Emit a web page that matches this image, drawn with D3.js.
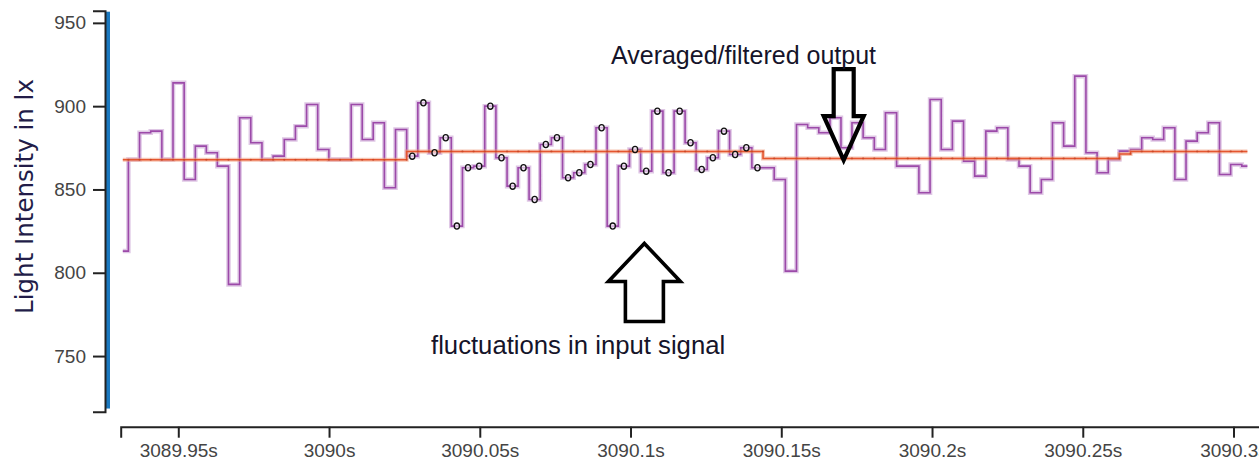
<!DOCTYPE html>
<html><head><meta charset="utf-8">
<script src="https://cdn.jsdelivr.net/npm/d3@7"></script>
<style>html,body{margin:0;padding:0;background:#fff;overflow:hidden}</style>
</head><body><svg id="chart" width="1259" height="461"></svg>
<script>
// ---------------- data ----------------
const sampleTimes = [
 3089.9316, 3089.9353, 3089.9390, 3089.9427, 3089.9464, 3089.9501, 3089.9538, 3089.9575, 3089.9611, 3089.9648,
 3089.9685, 3089.9722, 3089.9759, 3089.9796, 3089.9833, 3089.9870, 3089.9907, 3089.9944, 3089.9981, 3090.0018,
 3090.0055, 3090.0092, 3090.0128, 3090.0165, 3090.0202, 3090.0239, 3090.0276, 3090.0313, 3090.0350, 3090.0387,
 3090.0424, 3090.0461, 3090.0498, 3090.0535, 3090.0572, 3090.0609, 3090.0645, 3090.0682, 3090.0719, 3090.0756,
 3090.0793, 3090.0830, 3090.0867, 3090.0904, 3090.0941, 3090.0978, 3090.1015, 3090.1052, 3090.1089, 3090.1126,
 3090.1163, 3090.1199, 3090.1236, 3090.1273, 3090.1310, 3090.1347, 3090.1384, 3090.1421, 3090.1458, 3090.1495,
 3090.1532, 3090.1569, 3090.1606, 3090.1643, 3090.1680, 3090.1716, 3090.1753, 3090.1790, 3090.1827, 3090.1864,
 3090.1901, 3090.1938, 3090.1975, 3090.2012, 3090.2049, 3090.2086, 3090.2123, 3090.2160, 3090.2197, 3090.2233,
 3090.2270, 3090.2307, 3090.2344, 3090.2381, 3090.2418, 3090.2455, 3090.2492, 3090.2529, 3090.2566, 3090.2603,
 3090.2640, 3090.2677, 3090.2714, 3090.2750, 3090.2787, 3090.2824, 3090.2861, 3090.2898, 3090.2935, 3090.2972,
 3090.3009, 3090.3046
];
const inputSignal = [
 813, 868, 884, 885, 868, 914, 856, 876, 872, 864,
 793, 893, 878, 868, 870, 880, 888, 901, 874, 868,
 868, 901, 880, 890, 851, 886, 870, 902, 872, 881,
 828, 863, 864, 900, 869, 852, 863, 844, 877, 881,
 857, 860, 865, 887, 828, 864, 874, 861, 897, 860,
 897, 878, 862, 869, 885, 871, 875, 863, 863, 856,
 801, 889, 887, 884, 893, 875, 890, 881, 874, 896,
 864, 864, 848, 904, 874, 891, 867, 858, 885, 887,
 868, 864, 848, 856, 890, 876, 918, 872, 860, 868,
 873, 874, 881, 880, 887, 856, 879, 884, 890, 859,
 865, 864
];
const filteredOutput = [
 867.8, 867.8, 867.8, 867.8, 867.8, 867.8, 867.8, 867.8, 867.8, 867.8,
 867.8, 867.8, 867.8, 867.8, 867.8, 867.8, 867.8, 867.8, 867.8, 867.8,
 867.8, 867.8, 867.8, 867.8, 867.8, 867.8, 872.8, 872.8, 872.8, 872.8,
 872.8, 872.8, 872.8, 872.8, 872.8, 872.8, 872.8, 872.8, 872.8, 872.8,
 872.8, 872.8, 872.8, 872.8, 872.8, 872.8, 872.8, 872.8, 872.8, 872.8,
 872.8, 872.8, 872.8, 872.8, 872.8, 872.8, 872.8, 872.8, 868.6, 868.6,
 868.6, 868.6, 868.6, 868.6, 868.6, 868.6, 868.6, 868.6, 868.6, 868.6,
 868.6, 868.6, 868.6, 868.6, 868.6, 868.6, 868.6, 868.6, 868.6, 868.6,
 868.6, 868.6, 868.6, 868.6, 868.6, 868.6, 868.6, 868.6, 868.6, 868.6,
 871.3, 872.8, 872.8, 872.8, 872.8, 872.8, 872.8, 872.8, 872.8, 872.8,
 872.8, 872.8
];
// samples of the averaging window that are marked with circles (first, last index)
const markedWindow = [26, 57];
const yTickValues = [750, 800, 850, 900, 950];
const xTickValues = [3089.95, 3090, 3090.05, 3090.1, 3090.15, 3090.2, 3090.25, 3090.3];
const xTickLabels = ["3089.95s", "3090s", "3090.05s", "3090.1s", "3090.15s", "3090.2s", "3090.25s", "3090.3s"];
const yAxisTitle = "Light Intensity in lx";
const annotationTexts = ["Averaged/filtered output", "fluctuations in input signal"];

// ---------------- layout ----------------
const svg = d3.select("#chart");
const x = d3.scaleLinear().domain([3089.9309, 3090.312]).range([120.7, 1269.7]);
const y = d3.scaleLinear().domain([716.6, 957.3]).range([411.7, 10.7]);

svg.append("defs").append("clipPath").attr("id", "plotclip")
  .append("rect").attr("x", 120).attr("y", 0).attr("width", 1140).attr("height", 420);

// blue band beside y axis
svg.append("rect")
  .attr("x", 106).attr("width", 4)
  .attr("y", y(957.3) + 1).attr("height", y(718.5) - y(957.3) - 1)
  .attr("fill", "#1b78bf");

// y axis
const yAxis = svg.append("g").attr("transform", "translate(105,0)")
  .call(d3.axisLeft(y).tickValues(yTickValues).tickSize(12).tickPadding(7));
// x axis
const xAxis = svg.append("g").attr("transform", "translate(0,426.7)")
  .call(d3.axisBottom(x).tickValues(xTickValues).tickFormat((d, i) => xTickLabels[i]).tickSize(11).tickPadding(6));

[yAxis, xAxis].forEach(g => {
  g.selectAll("path,line").attr("stroke", "#222").attr("stroke-width", 2);
  g.selectAll("text").attr("fill", "#444")
    .style("font-family", "'Liberation Sans', Arial, sans-serif").style("font-size", "19px");
});

// y axis title
svg.append("text")
  .attr("transform", "translate(33,196.5) rotate(-90)")
  .attr("text-anchor", "middle")
  .style("font-family", "'DejaVu Sans', Verdana, sans-serif").style("font-size", "24.5px")
  .attr("fill", "#221c48")
  .text(yAxisTitle);

// ---------------- series ----------------
const idx = d3.range(sampleTimes.length);
const plot = svg.append("g").attr("clip-path", "url(#plotclip)");

const rawLine = d3.line().x(i => x(sampleTimes[i])).y(i => y(inputSignal[i])).curve(d3.curveStep);
const avgLine = d3.line().x(i => x(sampleTimes[i])).y(i => y(filteredOutput[i])).curve(d3.curveStep);

plot.append("path").attr("d", rawLine(idx)).attr("fill", "none")
  .attr("stroke", "#c9a2d4").attr("stroke-opacity", 0.6).attr("stroke-width", 4.5);
plot.append("path").attr("d", rawLine(idx)).attr("fill", "none")
  .attr("stroke", "#9c4aa9").attr("stroke-width", 1.6);

plot.append("path").attr("d", avgLine(idx)).attr("fill", "none")
  .attr("stroke", "#f0a084").attr("stroke-opacity", 0.6).attr("stroke-width", 4);
plot.append("path").attr("d", avgLine(idx)).attr("fill", "none")
  .attr("stroke", "#e5562f").attr("stroke-width", 1.6);

// joint marks on the filtered line
plot.selectAll("circle.joint").data(idx.slice(1)).join("circle").attr("class", "joint")
  .attr("cx", i => (x(sampleTimes[i - 1]) + x(sampleTimes[i])) / 2)
  .attr("cy", i => y(filteredOutput[i - 1]))
  .attr("r", 1.1).attr("fill", "#b8391c").attr("opacity", 0.5);

// marked input samples
const marked = idx.filter(i => i >= markedWindow[0] && i <= markedWindow[1]);
plot.selectAll("ellipse.mark").data(marked).join("ellipse").attr("class", "mark")
  .attr("cx", i => x(sampleTimes[i])).attr("cy", i => y(inputSignal[i]))
  .attr("rx", 2.6).attr("ry", 3.1).attr("fill", "#fff").attr("fill-opacity", 0.6)
  .attr("stroke", "#111").attr("stroke-width", 1.3);

// ---------------- annotations ----------------
const ann = svg.append("g");
// down arrow pointing at the filtered output
const downTip = [x(3090.1707), y(867.6)];
ann.append("path")
  .attr("transform", `translate(${downTip[0]},${downTip[1]})`)
  .attr("d", "M-10,-91 H10 V-44 H20 L0,0 L-20,-44 H-10 Z")
  .attr("fill", "none").attr("stroke", "#000").attr("stroke-width", 4.2).attr("stroke-linejoin", "miter");
// up arrow pointing at the input fluctuations
const upTip = [x(3090.1046), y(817.6)];
ann.append("path")
  .attr("transform", `translate(${upTip[0]},${upTip[1]})`)
  .attr("d", "M0,0 L36,38 H19 V78 H-19 V38 H-36 Z")
  .attr("fill", "none").attr("stroke", "#000").attr("stroke-width", 3.6).attr("stroke-linejoin", "miter");

ann.append("text").attr("x", 611).attr("y", 64)
  .style("font-family", "'Liberation Sans', Arial, sans-serif").style("font-size", "25px")
  .attr("fill", "#15142a").text(annotationTexts[0]);
ann.append("text").attr("x", 431).attr("y", 354)
  .style("font-family", "'Liberation Sans', Arial, sans-serif").style("font-size", "25.7px")
  .attr("fill", "#15142a").text(annotationTexts[1]);
</script>
</body></html>
